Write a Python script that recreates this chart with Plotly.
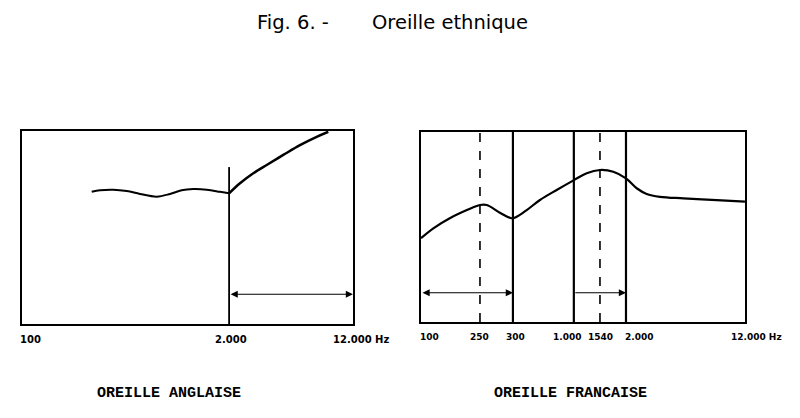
import numpy as np
import plotly.graph_objects as go
from plotly.subplots import make_subplots

# Oreille anglaise : frequences (Hz) et niveau relatif (0 = bas du cadre, 100 = haut)
ang_freq = [274, 309, 374, 455, 551, 702, 851, 1007, 1191, 1446, 1753, 2000]
ang_level = [68.5, 69.3, 69.6, 68.9, 67.4, 66.0, 67.4, 69.3, 69.9, 69.6, 68.5, 67.7]
ang_high_freq = [2000, 2341, 2838, 3444, 4379, 5575, 7099, 8400]
ang_high_level = [67.7, 72.9, 78.1, 82.4, 87.6, 92.7, 97.0, 99.6]
ang_cut_freq = 2000
ang_cut_top = 81.3
ang_band = [2000, 12000]
ang_ticks = [100, 2000, 12000]
ang_ticktext = ["100", "2.000", "12.000 Hz"]

# Oreille francaise
fr_freq = [100, 120, 153, 197, 239, 264, 321, 382, 411, 477, 580, 743, 959,
           1157, 1408, 1714, 2068, 2423, 2808, 3419, 4823, 7903, 12000]
fr_level = [44.1, 49.3, 54.6, 58.9, 61.6, 61.6, 57.5, 54.6, 55.4, 58.9, 64.2,
            69.5, 74.7, 78.3, 80.0, 79.1, 75.6, 70.4, 67.4, 65.9, 65.1, 64.2, 63.4]
fr_marks = [239, 389, 957, 1408, 2068]
fr_mark_dash = ["dash", "solid", "solid", "dash", "solid"]
fr_band_low = [100, 389]
fr_band_high = [957, 2068]
fr_ticks = [100, 239, 389, 957, 1408, 2068, 12000]
fr_ticktext = ["100", "250", "300", "1.000", "1540", "2.000", "12.000 Hz"]

arrow_level = 15.4

fig = make_subplots(rows=1, cols=2)

fig.add_trace(go.Scatter(x=ang_freq, y=ang_level, mode="lines", line_shape="spline",
                         line=dict(color="black", width=2)), row=1, col=1)
fig.add_trace(go.Scatter(x=ang_high_freq, y=ang_high_level, mode="lines", line_shape="spline",
                         line=dict(color="black", width=2.5)), row=1, col=1)
fig.add_trace(go.Scatter(x=[ang_cut_freq, ang_cut_freq], y=[0, ang_cut_top], mode="lines",
                         line=dict(color="black", width=1.8)), row=1, col=1)

fig.add_trace(go.Scatter(x=fr_freq, y=fr_level, mode="lines", line_shape="spline",
                         line=dict(color="black", width=2.2)), row=1, col=2)
for f, d in zip(fr_marks, fr_mark_dash):
    fig.add_trace(go.Scatter(x=[f, f], y=[0, 100], mode="lines",
                             line=dict(color="black", width=1.6 if d == "dash" else 2.2, dash=d)),
                  row=1, col=2)

# fleches
def arrow(xref, yref, f0, f1, side):
    fig.add_annotation(x=np.log10(f1), y=arrow_level, ax=np.log10(f0), ay=arrow_level,
                       xref=xref, yref=yref, axref=xref, ayref=yref, text="",
                       showarrow=True, arrowhead=2, arrowsize=1.3, arrowwidth=1.1,
                       arrowside=side, arrowcolor="black")

arrow("x", "y", ang_band[0], ang_band[1], "end+start")
arrow("x2", "y2", fr_band_low[0], fr_band_low[1], "end+start")
arrow("x2", "y2", fr_band_high[0], fr_band_high[1], "end")

# graduations ecrites a la main sous les cadres (decalages comme sur l'original)
def tick_labels(xref, yref, vals, texts, shifts, size):
    for v, t, s in zip(vals, texts, shifts):
        fig.add_annotation(x=np.log10(v), y=0, xref=xref, yref=yref + " domain", text=t,
                           showarrow=False, xanchor="center", yanchor="middle",
                           xshift=s, yshift=-15,
                           font=dict(family="DejaVu Sans", size=size, color="black", weight="bold"))

tick_labels("x", "y", ang_ticks, ang_ticktext, [8, 2, 8], 10)
tick_labels("x2", "y2", fr_ticks, fr_ticktext, [8, 0, 3, -7, 1, 13, 12], 9)

axis_style = dict(type="log", range=[2, np.log10(12000)], showgrid=False, zeroline=False,
                  showline=True, mirror=True, linecolor="black", linewidth=2,
                  ticks="", showticklabels=False, automargin=False)
fig.update_xaxes(axis_style)
fig.update_xaxes(domain=[0.0179, 0.4400], row=1, col=1)
fig.update_xaxes(domain=[0.5268, 0.9400], row=1, col=2)

fig.update_yaxes(range=[0, 100], showgrid=False, zeroline=False, showticklabels=False,
                 showline=True, mirror=True, linecolor="black", linewidth=2, automargin=False)
fig.update_yaxes(domain=[0.2139, 0.6940], row=1, col=1)
fig.update_yaxes(domain=[0.2189, 0.6915], row=1, col=2)

title_font = dict(family="DejaVu Sans", size=19.5, color="black")
fig.add_annotation(text="Fig. 6. -", x=0.3151, y=0.965, xref="paper", yref="paper",
                   xanchor="left", yanchor="middle", showarrow=False, font=title_font)
fig.add_annotation(text="Oreille ethnique", x=0.4617, y=0.965, xref="paper", yref="paper",
                   xanchor="left", yanchor="middle", showarrow=False, font=title_font)

label_font = dict(family="Liberation Mono", size=15, color="black", weight="bold")
fig.add_annotation(text="OREILLE ANGLAISE", x=0.111, y=0.042, xref="paper", yref="paper",
                   xanchor="left", yanchor="middle", showarrow=False, font=label_font)
fig.add_annotation(text="OREILLE FRANCAISE", x=0.6173, y=0.042, xref="paper", yref="paper",
                   xanchor="left", yanchor="middle", showarrow=False, font=label_font)

fig.update_layout(margin=dict(l=0, r=0, t=0, b=0),
                  showlegend=False, paper_bgcolor="white", plot_bgcolor="white")

fig.write_html("out.html")
